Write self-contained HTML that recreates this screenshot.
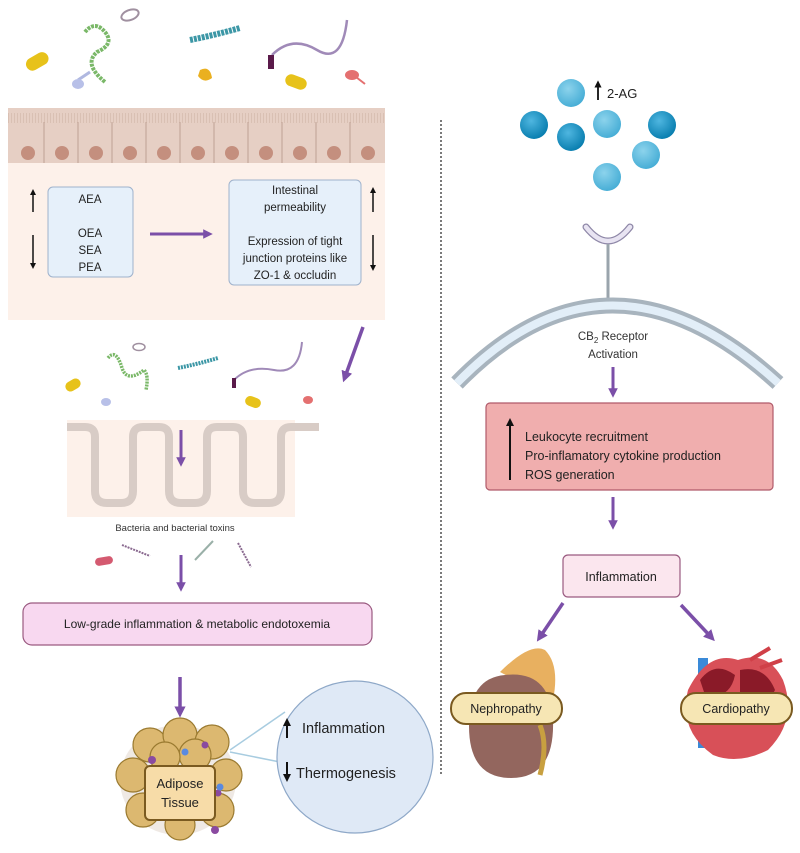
<!DOCTYPE html>
<html><head><meta charset="utf-8"><style>
html,body{margin:0;padding:0;background:#fff}
svg{display:block;font-family:"Liberation Sans",sans-serif}
</style></head><body>
<svg width="800" height="853" viewBox="0 0 800 853" xmlns="http://www.w3.org/2000/svg">
<defs>
<marker id="pa" viewBox="0 0 10 10" refX="5" refY="5" markerWidth="3.2" markerHeight="3.2" orient="auto"><path d="M0,0 L10,5 L0,10 z" fill="#7b4fa8"/></marker>
<marker id="ba" viewBox="0 0 10 10" refX="5" refY="5" markerWidth="4" markerHeight="4" orient="auto"><path d="M0,0 L10,5 L0,10 z" fill="#111"/></marker>
<radialGradient id="sph" cx="40%" cy="35%" r="65%"><stop offset="0" stop-color="#4fb6e0"/><stop offset="1" stop-color="#0a7fb0"/></radialGradient>
<radialGradient id="sph2" cx="40%" cy="35%" r="65%"><stop offset="0" stop-color="#8cd3ec"/><stop offset="1" stop-color="#48aed6"/></radialGradient>
</defs>

<!-- top bacteria -->
<rect x="25" y="55" width="24" height="13" rx="6.5" fill="#e7c21a" transform="rotate(-30 37 61)"/>
<path d="M85,32 q10,-12 20,0 t-8,20 q-14,12 8,30" fill="none" stroke="#7ab868" stroke-width="4" stroke-dasharray="3 1"/>
<path d="M78,80 l12,-8" stroke="#b0b8e0" stroke-width="3"/><ellipse cx="78" cy="84" rx="6" ry="5" fill="#b8c0e8"/>
<ellipse cx="130" cy="15" rx="9" ry="5" fill="none" stroke="#a090a0" stroke-width="2" transform="rotate(-20 130 15)"/>
<path d="M190,40 q25,-5 50,-12" stroke="#3c97a6" stroke-width="6" stroke-dasharray="3 1" fill="none"/>
<path d="M200,70 q10,-5 12,8 q-8,6 -14,-2" fill="#eab020"/>
<path d="M272,55 q20,-20 45,-5 t30,-30" fill="none" stroke="#a08ab8" stroke-width="2.5"/>
<rect x="268" y="55" width="6" height="14" fill="#5a1a4a"/>
<rect x="285" y="76" width="22" height="12" rx="6" fill="#e7c21a" transform="rotate(20 296 82)"/>
<ellipse cx="352" cy="75" rx="7" ry="5" fill="#e47070"/><path d="M356,77 l9,7" stroke="#e47070" stroke-width="2"/>

<!-- epithelium -->
<rect x="8" y="108" width="377" height="55" fill="#e6cfc4"/>
<line x1="8" y1="118" x2="385" y2="118" stroke-dasharray="1 2" stroke-width="10" stroke="#d9c0b3"/>
<g fill="#c48f7e">
<circle cx="28" cy="153" r="7"/><circle cx="62" cy="153" r="7"/><circle cx="96" cy="153" r="7"/><circle cx="130" cy="153" r="7"/><circle cx="164" cy="153" r="7"/><circle cx="198" cy="153" r="7"/><circle cx="232" cy="153" r="7"/><circle cx="266" cy="153" r="7"/><circle cx="300" cy="153" r="7"/><circle cx="334" cy="153" r="7"/><circle cx="368" cy="153" r="7"/>
</g>
<g stroke="#bfa193" stroke-width="1">
<line x1="44" y1="122" x2="44" y2="163"/><line x1="78" y1="122" x2="78" y2="163"/><line x1="112" y1="122" x2="112" y2="163"/><line x1="146" y1="122" x2="146" y2="163"/><line x1="180" y1="122" x2="180" y2="163"/><line x1="214" y1="122" x2="214" y2="163"/><line x1="248" y1="122" x2="248" y2="163"/><line x1="282" y1="122" x2="282" y2="163"/><line x1="316" y1="122" x2="316" y2="163"/><line x1="350" y1="122" x2="350" y2="163"/>
</g>
<rect x="8" y="163" width="377" height="157" fill="#fdf1ea"/>
<rect x="48" y="187" width="85" height="90" rx="5" fill="#e6f0fa" stroke="#9fb2cc"/>
<g font-size="11.5" fill="#222" text-anchor="middle">
<text x="90" y="203">AEA</text><text x="90" y="237">OEA</text><text x="90" y="254">SEA</text><text x="90" y="271">PEA</text>
</g>
<line x1="33" y1="212" x2="33" y2="192" stroke="#111" stroke-width="1.5" marker-end="url(#ba)"/>
<line x1="33" y1="235" x2="33" y2="266" stroke="#111" stroke-width="1.5" marker-end="url(#ba)"/>
<line x1="150" y1="234" x2="208" y2="234" stroke="#7b4fa8" stroke-width="3" marker-end="url(#pa)"/>
<rect x="229" y="180" width="132" height="105" rx="5" fill="#e6f0fa" stroke="#9fb2cc"/>
<g font-size="11.5" fill="#222" text-anchor="middle">
<text x="295" y="194">Intestinal</text><text x="295" y="211">permeability</text>
<text x="295" y="245">Expression of tight</text><text x="295" y="262">junction proteins like</text><text x="295" y="279">ZO-1 &amp; occludin</text>
</g>
<line x1="373" y1="212" x2="373" y2="190" stroke="#111" stroke-width="1.5" marker-end="url(#ba)"/>
<line x1="373" y1="235" x2="373" y2="268" stroke="#111" stroke-width="1.5" marker-end="url(#ba)"/>

<!-- diagonal arrow -->
<line x1="363" y1="327" x2="345" y2="377" stroke="#7b4fa8" stroke-width="3.5" marker-end="url(#pa)"/>

<!-- mid bacteria -->
<rect x="65" y="380" width="16" height="10" rx="5" fill="#e7c21a" transform="rotate(-30 73 385)"/>
<path d="M108,358 q8,-10 14,10 q5,15 22,2 q5,5 2,20" fill="none" stroke="#7ab868" stroke-width="3.5" stroke-dasharray="2 1"/>
<ellipse cx="106" cy="402" rx="5" ry="4" fill="#b8c0e8"/>
<ellipse cx="139" cy="347" rx="6" ry="3.5" fill="none" stroke="#a090a0" stroke-width="1.5"/>
<path d="M178,368 q20,-4 40,-10" stroke="#3c97a6" stroke-width="4" stroke-dasharray="2 1" fill="none"/>
<path d="M234,380 q15,-15 40,-10 t28,-28" fill="none" stroke="#a08ab8" stroke-width="2"/>
<rect x="232" y="378" width="4" height="10" fill="#5a1a4a"/>
<rect x="245" y="397" width="16" height="10" rx="5" fill="#e7c21a" transform="rotate(20 253 402)"/>
<ellipse cx="308" cy="400" rx="5" ry="4" fill="#e47070"/>

<!-- villi -->
<rect x="67" y="420" width="228" height="97" fill="#fdf1ea"/>
<path d="M67,427 h18 q10,0 10,10 v54 q0,12 12,12 h14 q12,0 12,-12 v-54 q0,-10 10,-10 h16 q10,0 10,10 v54 q0,12 12,12 h14 q12,0 12,-12 v-54 q0,-10 10,-10 h16 q10,0 10,10 v54 q0,12 12,12 h14 q12,0 12,-12 v-54 q0,-10 10,-10 h28" fill="none" stroke="#d8ccc6" stroke-width="8"/>
<line x1="181" y1="430" x2="181" y2="462" stroke="#7b4fa8" stroke-width="3" marker-end="url(#pa)"/>
<text x="175" y="531" font-size="9.5" fill="#333" text-anchor="middle">Bacteria and bacterial toxins</text>
<rect x="95" y="557" width="18" height="8" rx="4" fill="#d45a70" transform="rotate(-10 104 561)"/>
<line x1="122" y1="545" x2="150" y2="556" stroke="#8a6a90" stroke-width="2" stroke-dasharray="2 1"/>
<line x1="195" y1="560" x2="213" y2="541" stroke="#9ab0a8" stroke-width="2"/>
<line x1="238" y1="543" x2="251" y2="567" stroke="#8a6a90" stroke-width="2" stroke-dasharray="2 1"/>
<line x1="181" y1="555" x2="181" y2="587" stroke="#7b4fa8" stroke-width="3" marker-end="url(#pa)"/>
<rect x="23" y="603" width="349" height="42" rx="9" fill="#f8d8f0" stroke="#9a5a80" stroke-width="1.2"/>
<text x="197" y="628" font-size="12" fill="#222" text-anchor="middle">Low-grade inflammation &amp; metabolic endotoxemia</text>
<line x1="180" y1="677" x2="180" y2="712" stroke="#7b4fa8" stroke-width="3.5" marker-end="url(#pa)"/>

<!-- adipose -->
<ellipse cx="178" cy="780" rx="58" ry="55" fill="#e8e0d8" opacity="0.7"/>
<g stroke="#9a7a30" stroke-width="1.2" fill="#dcb870">
<circle cx="150" cy="745" r="17"/><circle cx="180" cy="735" r="17"/><circle cx="212" cy="742" r="17"/><circle cx="133" cy="775" r="17"/><circle cx="226" cy="775" r="16"/><circle cx="143" cy="810" r="17"/><circle cx="217" cy="810" r="17"/><circle cx="180" cy="825" r="15"/><circle cx="195" cy="755" r="16"/><circle cx="165" cy="757" r="15"/>
</g>
<g fill="#8a4aa0"><circle cx="152" cy="760" r="4"/><circle cx="205" cy="745" r="3.5"/><circle cx="215" cy="830" r="4"/><circle cx="218" cy="793" r="3.5"/></g>
<g fill="#5a8ae0"><circle cx="185" cy="752" r="3.5"/><circle cx="220" cy="787" r="3.5"/></g>
<rect x="145" y="766" width="70" height="54" rx="5" fill="#f7dca8" stroke="#7a5a20" stroke-width="2"/>
<text x="180" y="788" font-size="13" fill="#222" text-anchor="middle">Adipose</text>
<text x="180" y="807" font-size="13" fill="#222" text-anchor="middle">Tissue</text>
<line x1="230" y1="750" x2="285" y2="712" stroke="#a8cce0" stroke-width="1.5"/>
<line x1="230" y1="752" x2="280" y2="762" stroke="#a8cce0" stroke-width="1.5"/>
<ellipse cx="355" cy="757" rx="78" ry="76" fill="#dfe9f6" stroke="#8ea8c8" stroke-width="1.2"/>
<line x1="287" y1="738" x2="287" y2="722" stroke="#111" stroke-width="2" marker-end="url(#ba)"/>
<line x1="287" y1="762" x2="287" y2="778" stroke="#111" stroke-width="2" marker-end="url(#ba)"/>
<text x="302" y="733" font-size="14.5" fill="#222">Inflammation</text>
<text x="296" y="778" font-size="14.5" fill="#222">Thermogenesis</text>

<!-- divider -->
<line x1="441" y1="120" x2="441" y2="775" stroke="#333" stroke-width="1.3" stroke-dasharray="2 2"/>

<!-- right side spheres -->
<circle cx="571" cy="93" r="14" fill="url(#sph2)"/>
<circle cx="534" cy="125" r="14" fill="url(#sph)"/>
<circle cx="571" cy="137" r="14" fill="url(#sph)"/>
<circle cx="607" cy="124" r="14" fill="url(#sph2)"/>
<circle cx="662" cy="125" r="14" fill="url(#sph)"/>
<circle cx="646" cy="155" r="14" fill="url(#sph2)"/>
<circle cx="607" cy="177" r="14" fill="url(#sph2)"/>
<line x1="598" y1="100" x2="598" y2="84" stroke="#111" stroke-width="1.8" marker-end="url(#ba)"/>
<text x="607" y="98" font-size="13" fill="#222">2-AG</text>

<!-- receptor -->
<path d="M586,227 q22,28 44,0" fill="none" stroke="#8f88a8" stroke-width="7" stroke-linecap="round"/>
<path d="M586,227 q22,28 44,0" fill="none" stroke="#e8e4f2" stroke-width="4.5" stroke-linecap="round"/>
<line x1="608" y1="244" x2="608" y2="300" stroke="#9aa4ac" stroke-width="3"/>
<path d="M457,383 Q608,228 778,383" fill="none" stroke="#a8b4be" stroke-width="16"/>
<path d="M457,383 Q608,228 778,383" fill="none" stroke="#e2eef8" stroke-width="8"/>
<text x="613" y="340" font-size="11.5" fill="#333" text-anchor="middle">CB<tspan font-size="8" dy="3">2</tspan><tspan dy="-3"> Receptor</tspan></text>
<text x="613" y="358" font-size="11.5" fill="#333" text-anchor="middle">Activation</text>
<line x1="613" y1="367" x2="613" y2="393" stroke="#7b4fa8" stroke-width="3" marker-end="url(#pa)"/>
<rect x="486" y="403" width="287" height="87" rx="4" fill="#f0aeae" stroke="#b05a6a" stroke-width="1.2"/>
<line x1="510" y1="480" x2="510" y2="422" stroke="#111" stroke-width="2" marker-end="url(#ba)"/>
<g font-size="12.5" fill="#222"><text x="525" y="441">Leukocyte recruitment</text><text x="525" y="460">Pro-inflamatory cytokine production</text><text x="525" y="479">ROS generation</text></g>
<line x1="613" y1="497" x2="613" y2="525" stroke="#7b4fa8" stroke-width="3" marker-end="url(#pa)"/>
<rect x="563" y="555" width="117" height="42" rx="5" fill="#fbe6ee" stroke="#9a5a80" stroke-width="1.2"/>
<text x="621" y="581" font-size="12.5" fill="#222" text-anchor="middle">Inflammation</text>
<line x1="563" y1="603" x2="540" y2="637" stroke="#7b4fa8" stroke-width="3.5" marker-end="url(#pa)"/>
<line x1="681" y1="605" x2="711" y2="637" stroke="#7b4fa8" stroke-width="3.5" marker-end="url(#pa)"/>

<!-- kidney -->
<path d="M500,672 q30,-30 45,-22 q15,15 8,50 z" fill="#e8b060"/>
<path d="M505,675 q45,-5 48,45 q2,58 -42,58 q-42,0 -42,-52 q0,-48 36,-51 z" fill="#93665e"/>
<path d="M540,725 q8,20 0,50" fill="none" stroke="#c8a040" stroke-width="5"/>
<rect x="451" y="693" width="111" height="31" rx="15" fill="#f6e6b4" stroke="#7a5a20" stroke-width="2"/>
<text x="506" y="713" font-size="12.5" fill="#222" text-anchor="middle">Nephropathy</text>

<!-- heart -->
<rect x="698" y="658" width="10" height="90" fill="#3a8ad8"/>
<path d="M688,690 q20,-40 50,-30 q30,-10 45,20 q15,40 -15,70 q-30,15 -55,5 q-35,-25 -25,-65 z" fill="#d85058"/>
<path d="M700,680 q15,-20 35,-5 q-5,25 -30,20 z" fill="#8a1a28"/>
<path d="M740,670 q25,-5 35,20 q-10,20 -35,5 z" fill="#8a1a28"/>
<path d="M750,660 l20,-12 M760,668 l22,-8" stroke="#d04048" stroke-width="4"/>
<rect x="681" y="693" width="111" height="31" rx="15" fill="#f6e6b4" stroke="#7a5a20" stroke-width="2"/>
<text x="736" y="713" font-size="12.5" fill="#222" text-anchor="middle">Cardiopathy</text>
</svg>
</body></html>
